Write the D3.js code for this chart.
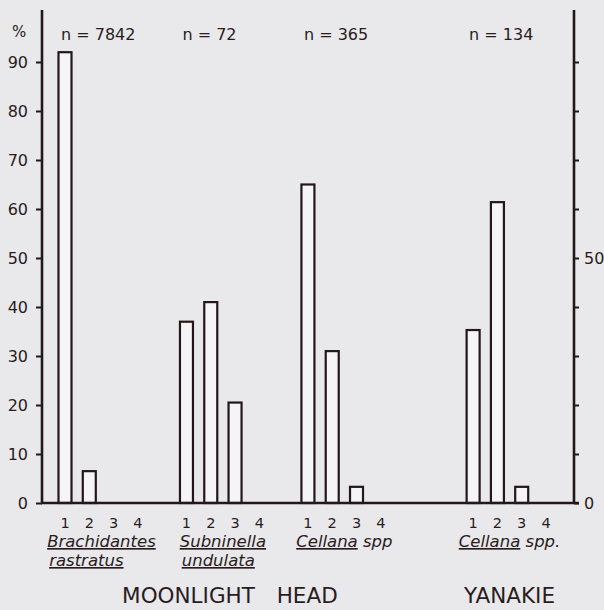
<!DOCTYPE html>
<html>
<head>
<meta charset="utf-8">
<script src="https://cdn.jsdelivr.net/npm/d3@7"></script>
<style>
  html, body { margin: 0; padding: 0; background: #e9e9eb; }
  svg { display: block; }
  text { font-family: "DejaVu Sans", sans-serif; fill: #2a1c1e; }
</style>
</head>
<body>
<svg id="chart" width="604" height="610"></svg>
<script>
// ---- data ----
const genus = ["Brachidantes", "Subninella", "Cellana", "Cellana"];
const species = ["rastratus", "undulata", "", ""];
const suffix = ["", "", " spp", " spp."];
const sites = ["MOONLIGHT HEAD", "MOONLIGHT HEAD", "MOONLIGHT HEAD", "YANAKIE"];
const sampleSizes = [7842, 72, 365, 134];
const classes = ["1", "2", "3", "4"];
const values = [
  [92, 6.5, 0, 0],
  [37, 41, 20.5, 0],
  [65, 31, 3.3, 0],
  [35.3, 61.4, 3.3, 0]
];
const yTicks = [0, 10, 20, 30, 40, 50, 60, 70, 80, 90];
const rightLabels = [0, 50];

// ---- layout ----
const ink = "#24171a";
const svg = d3.select("#chart");
const y = d3.scaleLinear().domain([0, 100]).range([503, 13]);
const siteGap = 1.8;
function slot(g, i) {
  return g * 5 + i + (sites[g] !== sites[0] ? siteGap : 0);
}
const x = d3.scaleLinear().domain([0, slot(3, 3)]).range([65, 546]);
const barW = 13;

const bars = [];
values.forEach((row, g) => row.forEach((v, i) => bars.push({g, i, v})));

// bars
svg.append("g").selectAll("rect")
  .data(bars.filter(d => d.v > 0))
  .join("rect")
  .attr("x", d => x(slot(d.g, d.i)) - barW / 2)
  .attr("y", d => y(d.v))
  .attr("width", barW)
  .attr("height", d => y(0) - y(d.v))
  .attr("fill", "#f5f4f6")
  .attr("stroke", ink)
  .attr("stroke-width", 2.2);

// left axis
const left = svg.append("g").attr("transform", "translate(42,0)")
  .call(d3.axisLeft(y).tickValues(yTicks).tickSize(6).tickSizeOuter(0).tickPadding(8));
left.select(".domain").remove();
left.selectAll(".tick line").attr("stroke", ink).attr("stroke-width", 2);
left.selectAll(".tick text").attr("font-size", 16).attr("fill", "#3a2426")
  .style("font-family", "DejaVu Sans, sans-serif");
svg.append("line").attr("x1", 42).attr("x2", 42).attr("y1", 10).attr("y2", y(0) + 1)
  .attr("stroke", ink).attr("stroke-width", 2.6);

// right axis
const right = svg.append("g").attr("transform", "translate(574,0)")
  .call(d3.axisRight(y).tickValues(yTicks).tickSize(5).tickSizeOuter(0).tickPadding(5)
    .tickFormat(d => rightLabels.includes(d) ? d : ""));
right.select(".domain").remove();
right.selectAll(".tick line").attr("stroke", ink).attr("stroke-width", 2);
right.selectAll(".tick text").attr("font-size", 16).attr("fill", "#3a2426")
  .style("font-family", "DejaVu Sans, sans-serif");
svg.append("line").attr("x1", 574).attr("x2", 574).attr("y1", 10).attr("y2", y(0) + 1)
  .attr("stroke", ink).attr("stroke-width", 2.6);

// baseline
svg.append("line").attr("x1", 41).attr("x2", 579).attr("y1", y(0)).attr("y2", y(0))
  .attr("stroke", ink).attr("stroke-width", 2.6);

// % label
svg.append("text").attr("x", 12).attr("y", 37).attr("font-size", 15).text("%");

// n labels
svg.append("g").selectAll("text").data(sampleSizes).join("text")
  .attr("x", (d, g) => x(slot(g, 0)) - 4)
  .attr("y", 40)
  .attr("font-size", 16)
  .text(d => "n = " + d);

// class labels
svg.append("g").selectAll("text").data(bars).join("text")
  .attr("x", d => x(slot(d.g, d.i)))
  .attr("y", 528)
  .attr("text-anchor", "middle")
  .attr("font-size", 14.5)
  .text(d => classes[d.i]);

// species labels
genus.forEach((gn, g) => {
  const cx = (x(slot(g, 0)) + x(slot(g, 3))) / 2;
  const t1 = svg.append("text").attr("x", cx).attr("y", 547)
    .attr("text-anchor", "middle").attr("font-size", 16.5).attr("font-style", "italic");
  t1.append("tspan").attr("text-decoration", "underline").text(gn);
  if (suffix[g]) t1.append("tspan").text(suffix[g]);
  if (species[g]) {
    const bx = t1.node().getBBox().x;
    svg.append("text").attr("x", bx + 2).attr("y", 566)
      .attr("font-size", 16.5).attr("font-style", "italic")
      .attr("text-decoration", "underline").text(species[g]);
  }
});

// site labels
const siteNames = Array.from(new Set(sites));
siteNames.forEach(s => {
  const gs = sites.map((v, i) => v === s ? i : -1).filter(i => i >= 0);
  const cx = d3.mean(gs, g => (x(slot(g, 0)) + x(slot(g, 3))) / 2);
  svg.append("text").attr("x", cx + (gs.length > 1 ? 7 : 0)).attr("y", 603)
    .attr("text-anchor", "middle").attr("font-size", 21.5)
    .attr("word-spacing", 15).attr("fill", "#2a1c1e")
    .text(s);
});
</script>
</body>
</html>
